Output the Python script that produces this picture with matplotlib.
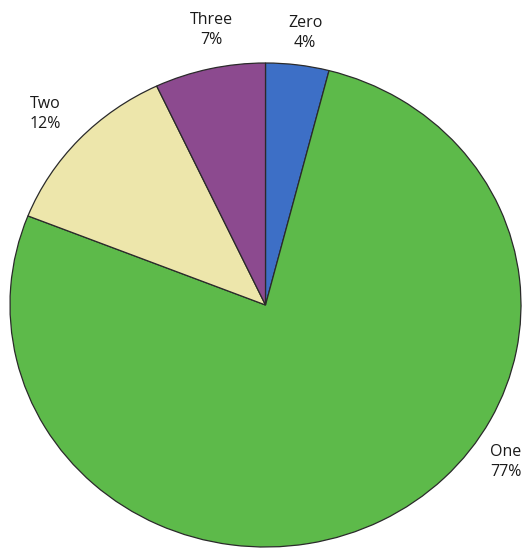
import matplotlib.pyplot as plt

categories = ['Zero', 'One', 'Two', 'Three']
shares = [4, 77, 12, 7]
colors = ['#3d6fc6', '#5dba4a', '#ede6ab', '#8c4a8f']

# label positions (data coords, pie radius = 1)
label_pos = [(0.155, 1.124), (0.941, -0.649), (-0.863, 0.789), (-0.21, 1.136)]

W, H = 524, 550
fig = plt.figure(figsize=(W / 100, H / 100), dpi=100)
# the scanned pie is slightly oval, so the axes is not square
ax = fig.add_axes([10 / W, 3 / H, 511 / W, 484 / H])

wedges, _ = ax.pie(shares, colors=colors, startangle=90, counterclock=False,
                   radius=1, wedgeprops=dict(edgecolor='#2a2a2a', linewidth=0.9))
ax.set_aspect('auto')
ax.set_xlim(-1, 1)
ax.set_ylim(-1, 1)
ax.axis('off')

for name, share, (x, y) in zip(categories, shares, label_pos):
    ax.text(x, y, f'{name}\n{share}%', ha='center', va='center', fontsize=11.5,
            family='Open Sans', color='#1a1a1a', linespacing=1.4)

fig.savefig('out.png', dpi=100)
